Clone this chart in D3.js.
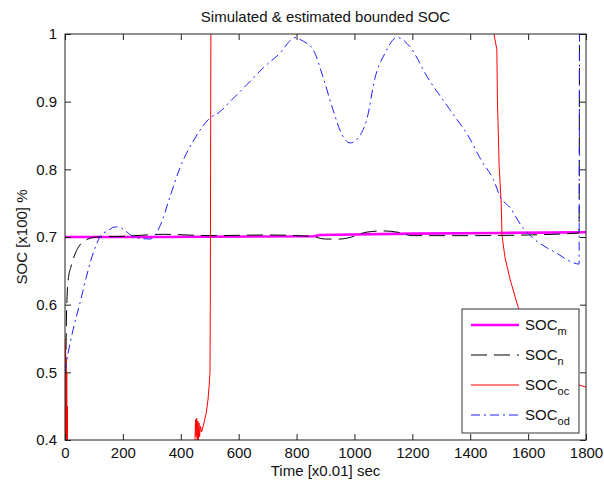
<!DOCTYPE html>
<html lang="en">
<head>
<meta charset="UTF-8">
<title>Simulated & estimated bounded SOC</title>
<script src="https://cdn.jsdelivr.net/npm/d3@7"></script>
<style>
    body{margin:0;background:#fff;}
    svg text{font-family:"Liberation Sans",Arial,sans-serif;fill:#111;}
</style>
</head>
<body>
<svg id="chart"></svg>
<script>
    // time in [x0.01 s], SOC in [x100 %]
    var xTicks=[0,200,400,600,800,1000,1200,1400,1600,1800];
    var yTicks=[0.4,0.5,0.6,0.7,0.8,0.9,1];

    var socM=[[0,0.700],[300,0.700],[860,0.701],[880,0.703],[1200,0.705],[1500,0.706],[1800,0.707]];

    var socN=[[0,0.50],[3,0.52],[5,0.58],[8,0.62],[12,0.64],[20,0.655],[28,0.667],[40,0.68],[63,0.693],
        [110,0.700],[200,0.701],[340,0.704],[500,0.702],[700,0.703],[850,0.701],[900,0.697],[950,0.697],
        [990,0.700],[1040,0.707],[1100,0.709],[1150,0.707],[1200,0.702],[1400,0.702],[1600,0.703],
        [1776,0.706],[1778,1.2]];

    var socOc=[[0,0.55],[1,0.41],[2,0.54],[3,0.40],[4,0.52],[5,0.38],[6,0.50],[7,0.37],[8,0.45],[9,0.30],
        [12,0.2],[30,0.1],[440,0.2],[446,0.30],[449,0.40],[451,0.43],[453,0.405],[455,0.432],[457,0.40],
        [459,0.428],[461,0.40],[463,0.425],[465,0.405],[468,0.42],[472,0.412],[480,0.425],[488,0.44],
        [494,0.46],[498,0.48],[501,0.50],[502,0.6],[503,0.8],[504,1.0],[506,1.3],[1480,1.3],[1482,1.0],
        [1492,0.977],[1494,0.903],[1500,0.804],[1507,0.75],[1510,0.702],[1520,0.67],[1538,0.637],
        [1565,0.597],[1600,0.56],[1650,0.52],[1700,0.50],[1750,0.485],[1800,0.478]];

    var socOd=[[0,0.50],[5,0.514],[28,0.563],[52,0.603],[80,0.651],[98,0.677],[121,0.700],[150,0.710],
        [175,0.715],[200,0.712],[230,0.702],[260,0.698],[294,0.697],[328,0.716],[363,0.76],[397,0.802],
        [449,0.846],[501,0.876],[532,0.884],[570,0.90],[628,0.925],[685,0.95],[743,0.972],[783,0.992],
        [800,0.995],[812,0.992],[857,0.977],[891,0.937],[926,0.888],[955,0.853],[985,0.839],[1012,0.846],
        [1044,0.876],[1071,0.935],[1106,0.972],[1147,0.995],[1192,0.981],[1251,0.937],[1330,0.888],
        [1395,0.848],[1440,0.812],[1480,0.785],[1503,0.76],[1538,0.743],[1578,0.716],[1618,0.698],
        [1665,0.684],[1699,0.676],[1745,0.664],[1776,0.66],[1778,1.2]];

    var series=[
        {name:"m",data:socM,color:"#ff00ff",width:2.6,dash:null,smooth:false},
        {name:"n",data:socN,color:"#000000",width:1,dash:"16,7",smooth:true},
        {name:"oc",data:socOc,color:"#ff0000",width:1,dash:null,smooth:false},
        {name:"od",data:socOd,color:"#1f1fff",width:1,dash:"9,4,2,4",smooth:true}
    ];

    var width=604,height=481;
    var pLeft=65,pRight=586,pTop=34,pBottom=440;

    var svg=d3.select("#chart").attr("width",width).attr("height",height);

    var x=d3.scaleLinear().domain([0,1800]).range([pLeft,pRight]);
    var y=d3.scaleLinear().domain([0.4,1]).range([pBottom,pTop]);

    svg.append("clipPath").attr("id","plotclip")
        .append("rect").attr("x",pLeft).attr("y",pTop)
        .attr("width",pRight-pLeft).attr("height",pBottom-pTop);

    var line=d3.line().x(function(d){return x(d[0]);}).y(function(d){return y(d[1]);});
    var smoothLine=d3.line().curve(d3.curveMonotoneX)
        .x(function(d){return x(d[0]);}).y(function(d){return y(d[1]);});

    var plot=svg.append("g").attr("clip-path","url(#plotclip)");
    // draw order: m, n, oc, od (od on top)
    series.forEach(function(s){
        plot.append("path")
            .attr("d",(s.smooth?smoothLine:line)(s.data))
            .attr("fill","none")
            .attr("stroke",s.color)
            .attr("stroke-width",s.width)
            .attr("stroke-dasharray",s.dash);
    });

    // axes, ticks inward on all sides
    var fmt=function(d){return d3.format("")(d);};
    var ax=svg.append("g").attr("transform","translate(0,"+pBottom+")")
        .call(d3.axisBottom(x).tickValues(xTicks).tickSizeInner(-6).tickSizeOuter(0).tickPadding(7).tickFormat(fmt));
    var axTop=svg.append("g").attr("transform","translate(0,"+pTop+")")
        .call(d3.axisTop(x).tickValues(xTicks).tickSizeInner(-6).tickSizeOuter(0).tickFormat(""));
    var ay=svg.append("g").attr("transform","translate("+pLeft+",0)")
        .call(d3.axisLeft(y).tickValues(yTicks).tickSizeInner(-6).tickSizeOuter(0).tickPadding(8).tickFormat(fmt));
    var ayRight=svg.append("g").attr("transform","translate("+pRight+",0)")
        .call(d3.axisRight(y).tickValues(yTicks).tickSizeInner(-6).tickSizeOuter(0).tickFormat(""));
    [ax,axTop,ay,ayRight].forEach(function(g){
        g.select(".domain").remove();
        g.selectAll("line").attr("stroke","#222");
        g.selectAll("text").attr("font-size","15px").attr("font-family",null).style("fill","#111");
    });

    svg.append("rect").attr("x",pLeft).attr("y",pTop)
        .attr("width",pRight-pLeft).attr("height",pBottom-pTop)
        .attr("fill","none").attr("stroke","#222").attr("stroke-width",1);

    svg.append("text").attr("x",(pLeft+pRight)/2).attr("y",22)
        .attr("text-anchor","middle").attr("font-size","15px")
        .text("Simulated & estimated bounded SOC");
    svg.append("text").attr("x",(pLeft+pRight)/2).attr("y",476)
        .attr("text-anchor","middle").attr("font-size","15px")
        .text("Time [x0.01] sec");
    svg.append("text").attr("transform","translate(27,"+((pTop+pBottom)/2)+") rotate(-90)")
        .attr("text-anchor","middle").attr("font-size","15px")
        .text("SOC [x100] %");

    // legend
    var lg=svg.append("g").attr("transform","translate(462,309)");
    lg.append("rect").attr("width",117).attr("height",124)
        .attr("fill","#fff").attr("stroke","#333").attr("stroke-width",1);
    series.forEach(function(s,i){
        var ly=16+i*30;
        lg.append("line").attr("x1",9).attr("x2",57).attr("y1",ly).attr("y2",ly)
            .attr("stroke",s.color).attr("stroke-width",s.width)
            .attr("stroke-dasharray",s.dash);
        var t=lg.append("text").attr("x",63).attr("y",ly+5).attr("font-size","15px");
        t.append("tspan").text("SOC");
        t.append("tspan").attr("font-size","11px").attr("dy",5).text(s.name);
    });
</script>
</body>
</html>
